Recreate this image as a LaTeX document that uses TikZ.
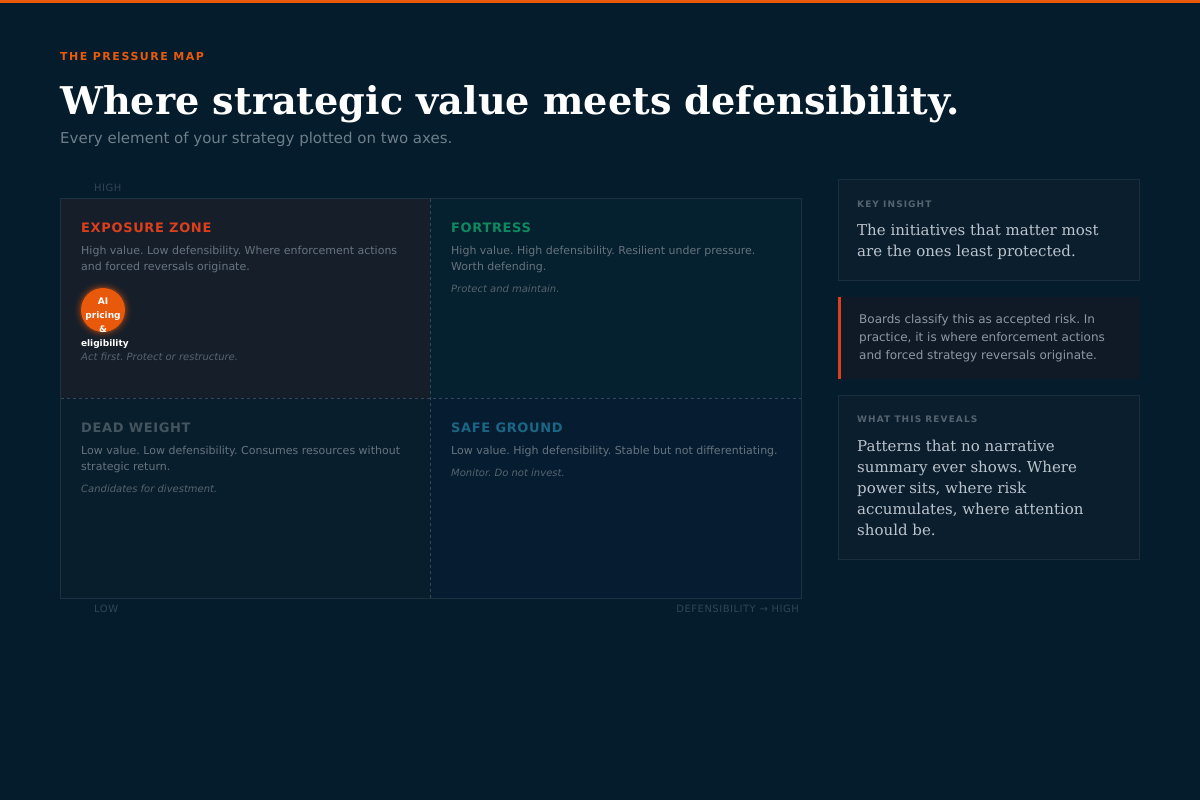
\documentclass[tikz,border=0pt]{standalone}
\usepackage{fontspec}
\setmainfont{DejaVu Serif}
\setsansfont{DejaVu Sans}
\newfontfamily\trackfont[LetterSpace=5]{DejaVu Sans}
\newfontfamily\widetrack[LetterSpace=14]{DejaVu Sans}
\newfontfamily\labeltrack[LetterSpace=12]{DejaVu Sans}
\usetikzlibrary{backgrounds}
\frenchspacing

\definecolor{navy}{HTML}{051C2C}
\definecolor{accent}{HTML}{E8590C}
\definecolor{alarm}{HTML}{DC3F1C}
\definecolor{fortgreen}{HTML}{0F8A60}
\definecolor{deadgrey}{HTML}{44545F}
\definecolor{safeblue}{HTML}{1B6685}
\definecolor{bodygrey}{HTML}{66737E}
\definecolor{notegrey}{HTML}{55636E}
\definecolor{axisgrey}{HTML}{304656}
\definecolor{rulegrey}{HTML}{1C3242}
\definecolor{panel}{HTML}{0A1E2E}
\definecolor{panelline}{HTML}{1A2E3E}
\definecolor{quoteback}{HTML}{0F1A26}
\definecolor{quotetext}{HTML}{8D98A2}
\definecolor{serifgrey}{HTML}{BCC4CC}
\definecolor{subgrey}{HTML}{6E7E8A}
\definecolor{tlfill}{HTML}{161E2A}
\definecolor{trfill}{HTML}{05202E}
\definecolor{blfill}{HTML}{081E2C}
\definecolor{brfill}{HTML}{061D31}

\newcommand{\px}[2]{\fontsize{#1}{#2}\selectfont}

\tikzset{
  lbl/.style={inner sep=0pt, anchor=base west, align=left},
  quadtitle/.style={lbl, font=\trackfont\bfseries\px{13}{16}},
  quadbody/.style={lbl, font=\sffamily\px{11}{16}, text=bodygrey},
  quadnote/.style={lbl, font=\sffamily\itshape\px{10}{14}, text=notegrey},
  axislabel/.style={inner sep=0pt, anchor=base west, font=\trackfont\px{10}{12}, text=axisgrey},
  panellabel/.style={lbl, font=\labeltrack\bfseries\px{9}{12}, text=notegrey},
  panelquote/.style={lbl, font=\rmfamily\px{15}{21}, text=serifgrey}
}

\begin{document}
\begin{tikzpicture}[x=1pt,y=-1pt]
\fill[navy] (0,0) rectangle (1200,800);
\useasboundingbox (0,0) rectangle (1200,800);
\fill[accent] (0,0) rectangle (1200,3);

% header
\node[lbl, font=\widetrack\bfseries\px{11}{14}, text=accent] (kicker) at (60,61) {THE PRESSURE MAP};
\node[lbl, font=\rmfamily\bfseries\px{38.2}{44}, text=white] (title) at (60,114) {Where strategic value meets defensibility.};
\node[lbl, font=\sffamily\px{15}{20}, text=subgrey] (subtitle) at (60,143) {Every element of your strategy plotted on two axes.};

% quadrants
\fill[tlfill] (60,198) rectangle (430,398);
\fill[trfill] (430,198) rectangle (801,398);
\fill[blfill] (60,398) rectangle (430,598);
\fill[brfill] (430,398) rectangle (801,598);
\draw[rulegrey] (60.5,198.5) rectangle (801,598);
\draw[rulegrey!80!white!70!navy, dash pattern=on 3pt off 3pt] (430.5,198.5) -- (430.5,598);
\draw[rulegrey!80!white!70!navy, dash pattern=on 3pt off 3pt] (60.5,398.5) -- (801,398.5);

\node[axislabel] (high) at (94,191) {HIGH};
\node[axislabel] (low) at (94,612) {LOW};
\node[axislabel, anchor=base east] (defens) at (799,612) {DEFENSIBILITY {\sffamily→} HIGH};

% multi-line nodes sit on their last baseline
\node[quadtitle, text=alarm] (exptitle) at (81,232) {EXPOSURE ZONE};
\node[quadbody] (expbody) at (81,270) {High value. Low defensibility. Where enforcement actions\\and forced reversals originate.};
\foreach \r/\o in {29/0.04, 27/0.07, 25/0.12, 23.5/0.2}
  \fill[accent, opacity=\o] (103,310) circle (\r);
\fill[accent] (103,310) circle (22);
\node[inner sep=0pt, anchor=base, text width=44pt, align=center, font=\sffamily\bfseries\px{9}{14}, text=white] (aidot) at (103,304) {AI\\pricing\\\&\\\hbox{eligibility}};
\node[quadnote] (expnote) at (81,360) {Act first. Protect or restructure.};

\node[quadtitle, text=fortgreen] (forttitle) at (451,232) {FORTRESS};
\node[quadbody] (fortbody) at (451,270) {High value. High defensibility. Resilient under pressure.\\Worth defending.};
\node[quadnote] (fortnote) at (451,292) {Protect and maintain.};

\node[quadtitle, text=deadgrey] (deadtitle) at (81,432) {DEAD WEIGHT};
\node[quadbody] (deadbody) at (81,470) {Low value. Low defensibility. Consumes resources without\\strategic return.};
\node[quadnote] (deadnote) at (81,492) {Candidates for divestment.};

\node[quadtitle, text=safeblue] (safetitle) at (451,432) {SAFE GROUND};
\node[quadbody] (safebody) at (451,454) {Low value. High defensibility. Stable but not differentiating.};
\node[quadnote] (safenote) at (451,476) {Monitor. Do not invest.};

% side panels
\filldraw[fill=panel, draw=panelline] (838.5,179.5) rectangle (1139.5,280.5);
\node[panellabel] (keylabel) at (857,207) {KEY INSIGHT};
\node[panelquote] (keytext) at (857,256) {The initiatives that matter most\\are the ones least protected.};

\fill[quoteback] (838,297) rectangle (1140,379);
\fill[alarm] (838,297) rectangle (841,379);
\node[lbl, font=\sffamily\px{12}{18}, text=quotetext] (boards) at (859,359) {Boards classify this as accepted risk. In\\practice, it is where enforcement actions\\and forced strategy reversals originate.};

\filldraw[fill=panel, draw=panelline] (838.5,395.5) rectangle (1139.5,559.5);
\node[panellabel] (reveallabel) at (857,422) {WHAT THIS REVEALS};
\node[panelquote] (revealtext) at (857,535) {Patterns that no narrative\\summary ever shows. Where\\power sits, where risk\\accumulates, where attention\\should be.};
\end{tikzpicture}
\end{document}
